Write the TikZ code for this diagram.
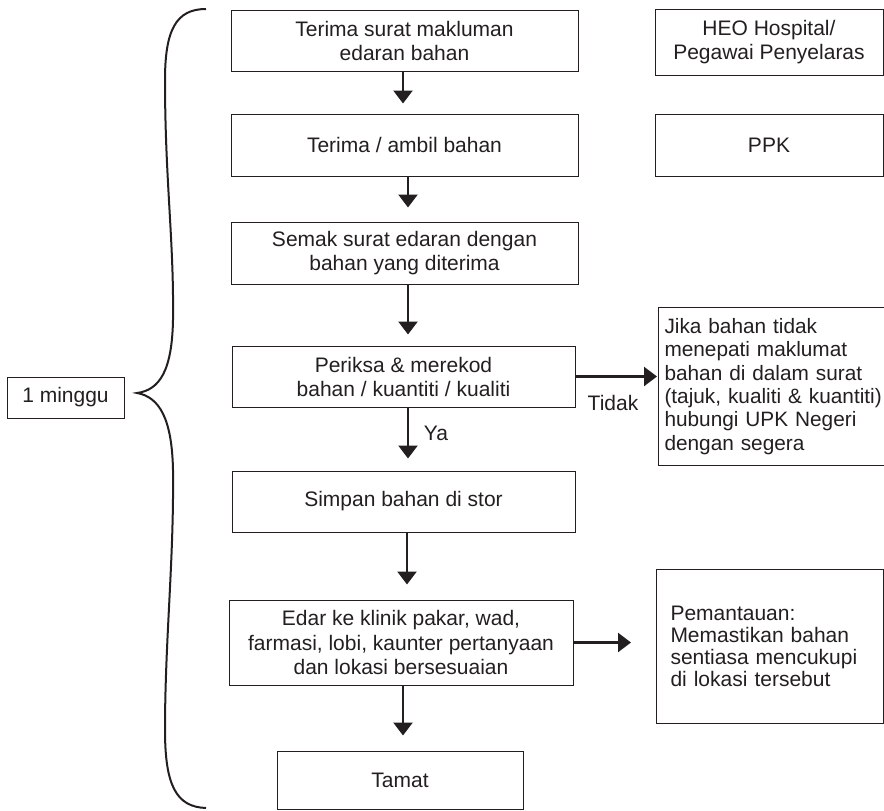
\documentclass[tikz,border=0pt]{standalone}
\usepackage{fontspec}
\setmainfont{Liberation Sans}
\usetikzlibrary{arrows.meta}
\definecolor{ink}{HTML}{231F20}

\begin{document}
\begin{tikzpicture}[x=1pt,y=-1pt,
  flow/.style={draw=ink, text=ink, line width=1pt, align=center, inner sep=0pt,
    font=\fontsize{21}{24}\selectfont},
  note/.style={flow, anchor=north west, align=left},
  lbl/.style={text=ink, inner sep=0pt, font=\fontsize{21}{24}\selectfont},
  arr/.style={draw=ink, line width=2.5pt, -{Triangle[length=13pt,width=19pt]}}]

\clip (0,0) rectangle (884,811);

% main column
\node[flow, minimum width=347pt, minimum height=61pt] (b1) at (404.5,40.5) {Terima surat makluman\\edaran bahan};
\node[flow, minimum width=347pt, minimum height=62pt] (b2) at (404.5,145) {Terima / ambil bahan};
\node[flow, minimum width=347pt, minimum height=62pt] (b3) at (404.5,253) {Semak surat edaran dengan\\bahan yang diterima};
\node[flow, minimum width=343pt, minimum height=61pt] (b4) at (403.5,376.5) {Periksa \& merekod\\bahan / kuantiti / kualiti};
\node[flow, minimum width=343pt, minimum height=61pt] (b5) at (403.5,501.5) {Simpan bahan di stor};
\node[flow, minimum width=344pt, minimum height=85pt, font=\fontsize{21}{24.5}\selectfont] (b6) at (401,642.5) {Edar ke klinik pakar, wad,\\farmasi, lobi, kaunter pertanyaan\\dan lokasi bersesuaian};
\node[flow, minimum width=246pt, minimum height=58pt] (tamat) at (400,780) {Tamat};

% responsibility boxes
\node[flow, minimum width=228pt, minimum height=66pt] (heo) at (769,42) {HEO Hospital/\\Pegawai Penyelaras};
\node[flow, minimum width=228pt, minimum height=62pt] (ppk) at (769,145) {PPK};

% side notes
\node[note, minimum width=240pt, minimum height=158pt, text width=228pt, inner xsep=6pt,
  font=\fontsize{20.8}{23.4}\selectfont] (jika) at (658,307)
  {Jika bahan tidak\\menepati maklumat\\bahan di dalam surat\\(tajuk, kualiti \& kuantiti)\\hubungi UPK Negeri\\dengan segera};
\node[note, minimum width=227pt, minimum height=154pt, text width=199pt, inner xsep=14pt,
  font=\fontsize{21}{22}\selectfont] (pem) at (656,569)
  {Pemantauan:\\Memastikan bahan\\sentiasa mencukupi\\di lokasi tersebut};

% duration
\node[flow, minimum width=117pt, minimum height=41pt] (minggu) at (65.5,397.5) {1 minggu};
\draw[ink, line width=2pt]
  (206,9) .. controls (176,9) and (165,30) .. (165,80)
  .. controls (165,180) and (174,240) .. (173,320)
  .. controls (172,370) and (160,390) .. (137,393)
  .. controls (160,397) and (172,420) .. (173,470)
  .. controls (174,560) and (165,640) .. (165,730)
  .. controls (165,785) and (176,807) .. (206,808);

% flow arrows
\draw[arr, shorten >=10pt] ([xshift=-1.5pt]b1.south) -- ([xshift=-1.5pt]b2.north);
\draw[arr, shorten >=14pt] ([xshift=3.5pt]b2.south) -- ([xshift=3.5pt]b3.north);
\draw[arr, shorten >=11pt] ([xshift=3.5pt]b3.south) -- ([xshift=4.5pt]b4.north);
\draw[arr, shorten >=12pt] ([xshift=4.5pt]b4.south) -- ([xshift=4.5pt]b5.north);
\draw[arr, shorten >=15pt] ([xshift=3.5pt]b5.south) -- ([xshift=6pt]b6.north);
\draw[arr, shorten >=15pt] ([xshift=2pt]b6.south) -- ([xshift=3pt]tamat.north);
\draw[arr, shorten >=1pt] (b4.east) -- (b4.east -| jika.west);
\draw[arr, shorten >=25pt] (b6.east) -- (b6.east -| pem.west);

% branch labels
\node[lbl] (ya) at (436,433) {Ya};
\node[lbl] (tidak) at (613,403) {Tidak};
\end{tikzpicture}
\end{document}
